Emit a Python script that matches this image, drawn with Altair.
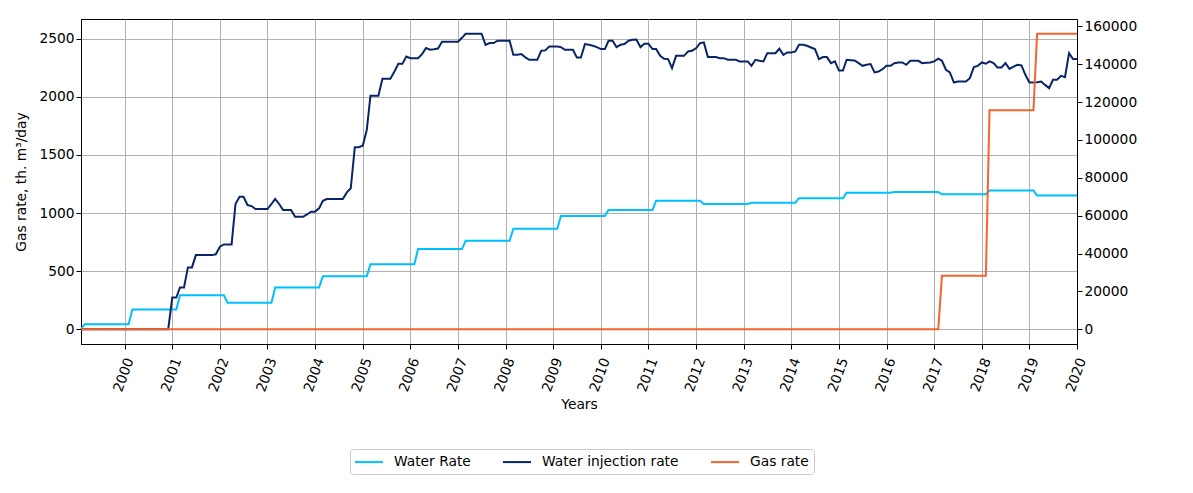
import altair as alt
import pandas as pd

# Monthly time axis of the well history
months = pd.date_range("1999-02-01", "2020-01-01", freq="MS")

# Water injection rate, monthly; zero until injection starts in Dec 2000
injection_zero_months = 22
injection = [
    0,                                                                          # 2000-12
    273, 273, 359, 359, 532, 532, 638, 638, 638, 638, 638, 645,                 # 2001
    710, 730, 730, 730, 1078, 1141, 1141, 1069, 1060, 1034, 1034, 1034,         # 2002
    1034, 1078, 1121, 1078, 1026, 1026, 1026, 968, 968, 968, 988, 1012,         # 2003
    1012, 1040, 1106, 1121, 1121, 1121, 1121, 1121, 1178, 1213, 1566, 1566,     # 2004
    1580, 1716, 2009, 2009, 2009, 2155, 2155, 2155, 2218, 2284, 2284, 2347,     # 2005
    2333, 2333, 2333, 2368, 2420, 2405, 2410, 2416, 2474, 2474, 2474, 2474,     # 2006
    2474, 2508, 2543, 2543, 2543, 2543, 2543, 2448, 2463, 2463, 2483, 2483,     # 2007
    2483, 2483, 2362, 2362, 2368, 2340, 2319, 2319, 2319, 2397, 2400, 2434,     # 2008
    2434, 2434, 2428, 2405, 2405, 2405, 2339, 2339, 2454, 2448, 2440, 2428,     # 2009
    2411, 2411, 2483, 2483, 2428, 2448, 2454, 2483, 2491, 2494, 2428, 2457,     # 2010
    2457, 2411, 2411, 2353, 2328, 2325, 2247, 2353, 2353, 2353, 2391, 2397,     # 2011
    2418, 2463, 2468, 2342, 2342, 2342, 2333, 2333, 2319, 2319, 2319, 2305,     # 2012
    2305, 2305, 2267, 2319, 2310, 2305, 2376, 2376, 2376, 2414, 2362, 2382,     # 2013
    2382, 2391, 2448, 2448, 2440, 2425, 2411, 2325, 2342, 2342, 2290, 2305,     # 2014
    2226, 2226, 2319, 2316, 2313, 2290, 2267, 2276, 2282, 2210, 2218, 2238,     # 2015
    2267, 2267, 2290, 2296, 2296, 2276, 2310, 2310, 2310, 2290, 2293, 2296,     # 2016
    2305, 2328, 2310, 2233, 2210, 2123, 2132, 2132, 2132, 2161, 2256, 2267,     # 2017
    2296, 2285, 2305, 2290, 2253, 2253, 2290, 2241, 2261, 2276, 2270, 2190,     # 2018
    2123, 2123, 2125, 2132, 2103, 2075, 2147, 2147, 2181, 2170, 2376, 2325,     # 2019
    2325,                                                                       # 2020-01
]

# Water rate: constant levels, each new level starting in the listed month
water_start = ["1999-02", "1999-03", "2000-03", "2001-03", "2002-03", "2003-03",
               "2004-03", "2005-03", "2006-03", "2007-03", "2008-03", "2009-03",
               "2010-03", "2011-03", "2012-03", "2013-03", "2014-03", "2015-03",
               "2016-03", "2017-03", "2018-03", "2019-03"]
water_level = [0, 43, 170, 293, 227, 359, 457, 560, 690, 761, 865, 974,
               1026, 1106, 1078, 1089, 1128, 1175, 1182, 1161, 1193, 1152]

# Gas rate (right axis): constant levels from the listed month
gas_start = ["1999-02", "2017-03", "2018-03", "2019-03"]
gas_level = [0, 28300, 115700, 156100]

series_names = ["Water Rate", "Water injection rate", "Gas rate"]
series_colors = ["#00BFFF", "#0A2566", "#F26530"]

left_ticks = [0, 500, 1000, 1500, 2000, 2500]
right_ticks = [0, 20000, 40000, 60000, 80000, 100000, 120000, 140000, 160000]
year_ticks = list(range(2000, 2021))

FONT = "DejaVu Sans"
FONT_SIZE = 13.8


def steps(starts, levels):
    keys = [pd.Timestamp(s + "-01") for s in starts]
    out = []
    for m in months:
        v = levels[0]
        for k, lv in zip(keys, levels):
            if m >= k:
                v = lv
        out.append(v)
    return out


inj_full = [0] * injection_zero_months + injection
water_full = steps(water_start, water_level)
gas_full = steps(gas_start, gas_level)

dates = [d.strftime("%Y-%m-%d") for d in months]
left_df = pd.concat([
    pd.DataFrame({"date": dates, "series": series_names[0], "value": water_full}),
    pd.DataFrame({"date": dates, "series": series_names[1], "value": inj_full}),
])
right_df = pd.DataFrame({"date": dates, "series": series_names[2], "value": gas_full})

# Legend key: a 28px horizontal stroke starting at the entry's left edge
color = alt.Color(
    "series:N",
    scale=alt.Scale(domain=series_names, range=series_colors),
    sort=series_names,
    legend=alt.Legend(
        title=None, orient="none", legendX=269, legendY=430,
        direction="horizontal", symbolType="M-1.142857,0H2.857143", symbolSize=196,
        symbolStrokeWidth=2, labelOffset=23, columnPadding=28,
        padding=5, strokeColor="#cccccc", cornerRadius=3, fillColor="white",
        labelFontSize=FONT_SIZE, labelFont=FONT, labelColor="black",
    ),
)

x = alt.X(
    "date:T",
    scale=alt.Scale(domain=[alt.DateTime(year=1999, month=2, date=1),
                            alt.DateTime(year=2020, month=1, date=1)]),
    axis=alt.Axis(
        title="Years",
        values=[alt.DateTime(year=y, month=1, date=1) for y in year_ticks],
        format="%Y", labelAngle=290, labelAlign="right", labelBaseline="middle",
        labelPadding=9, labelOffset=5, labelOverlap=False, labelFlush=False,
        grid=True, titlePadding=4,
    ),
)

left = alt.Chart(left_df).mark_line(strokeWidth=2).encode(
    x=x,
    y=alt.Y("value:Q",
            scale=alt.Scale(domain=[-127, 2670], nice=False, zero=False),
            axis=alt.Axis(title="Gas rate, th. m³/day", values=left_ticks,
                          format="d", grid=True, titlePadding=10)),
    color=color,
    detail="series:N",
)

right = alt.Chart(right_df).mark_line(strokeWidth=2).encode(
    x=x,
    y=alt.Y("value:Q",
            scale=alt.Scale(domain=[-7805, 163905], nice=False, zero=False),
            axis=alt.Axis(title=None, orient="right", values=right_ticks,
                          format="d", grid=False)),
    color=color,
)

chart = alt.layer(left, right).resolve_scale(y="independent").properties(
    width=996, height=325,
    autosize=alt.AutoSizeParams(type="none"),
    padding={"left": 81, "top": 19, "right": 116, "bottom": 149},
).configure(
    font=FONT,
    background="white",
).configure_view(
    stroke="black", strokeWidth=1,
).configure_axis(
    labelFont=FONT, titleFont=FONT,
    labelFontSize=FONT_SIZE, titleFontSize=FONT_SIZE, titleFontWeight="normal",
    labelColor="black", titleColor="black",
    domainColor="black", domainWidth=1,
    tickColor="black", tickSize=5, tickWidth=1,
    gridColor="#b0b0b0", gridWidth=1, gridOpacity=1,
)

chart.save("out.html", embed_options={"renderer": "svg", "actions": False})
